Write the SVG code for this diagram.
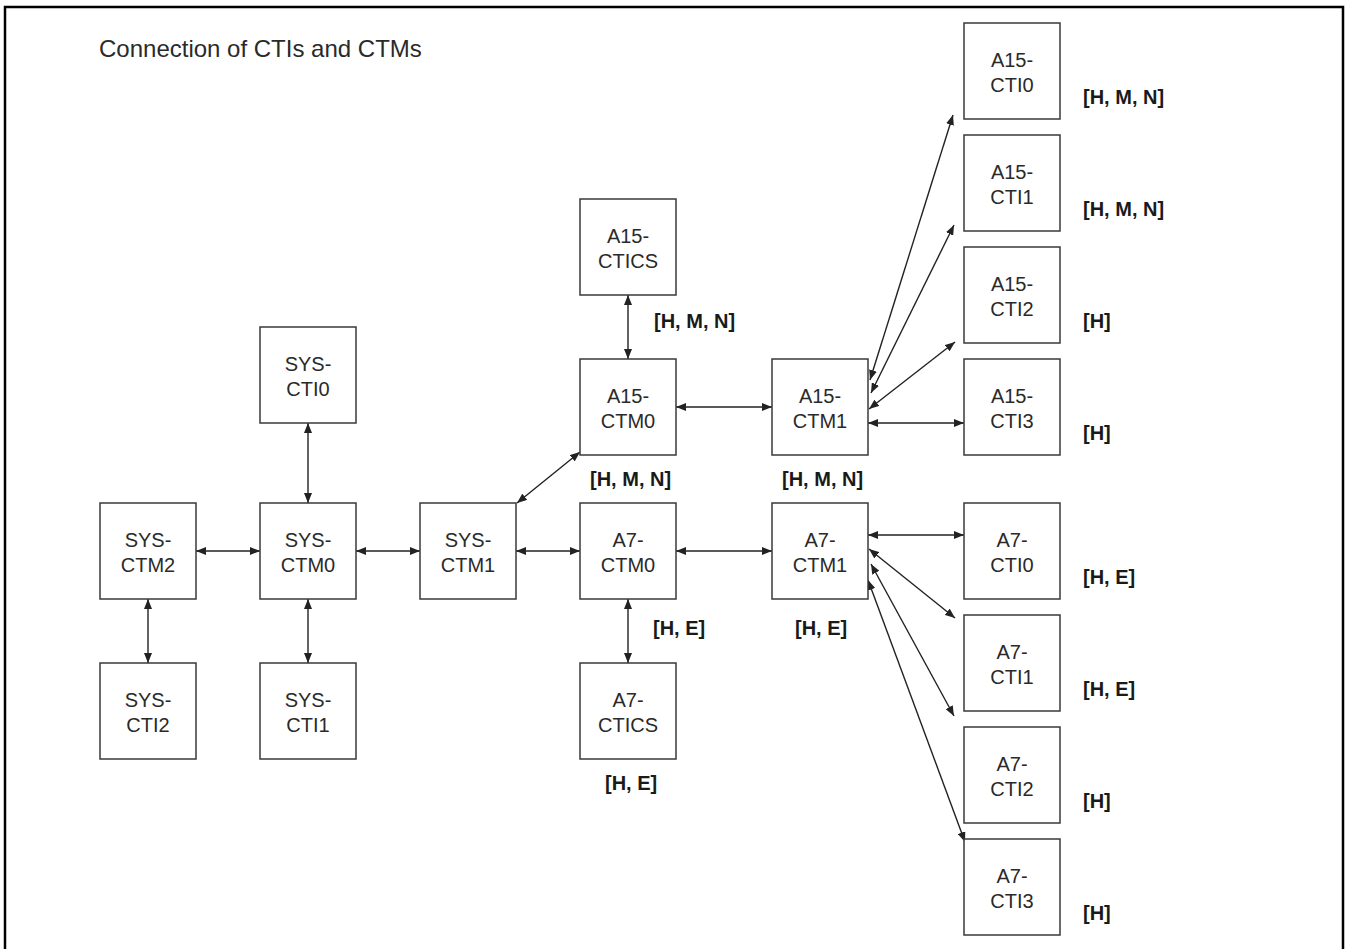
<svg xmlns="http://www.w3.org/2000/svg" width="1346" height="949" viewBox="0 0 1346 949">
  <defs>
    <marker id="arrow" viewBox="0 0 10 8" refX="10" refY="4" markerWidth="10" markerHeight="8" markerUnits="userSpaceOnUse" orient="auto-start-reverse">
      <path d="M0,0 L10,4 L0,8 z" fill="#222"/>
    </marker>
    <style>
      .frame { fill: none; stroke: #000; stroke-width: 2.5; }
      .box { fill: #fff; stroke: #3a3a3a; stroke-width: 1.5; }
      .name { font-family: "Liberation Sans", Arial, sans-serif; font-size: 20px; fill: #2a2a2a; text-anchor: middle; }
      .tag { font-family: "Liberation Sans", Arial, sans-serif; font-size: 20px; font-weight: bold; fill: #1a1a1a; }
      .title { font-family: "Liberation Sans", Arial, sans-serif; font-size: 24px; fill: #2a2a2a; }
      .link { stroke: #222; stroke-width: 1.4; fill: none; marker-start: url(#arrow); marker-end: url(#arrow); }
    </style>
  </defs>

  <rect width="1346" height="949" fill="#fff"/>
  <path class="frame" d="M5,960 V7 H1343 V960"/>
  <text class="title" x="99" y="57">Connection of CTIs and CTMs</text>

  <!-- connectors -->
  <g id="connectors">
    <line class="link" x1="196" y1="551" x2="260" y2="551"/>
    <line class="link" x1="356" y1="551" x2="420" y2="551"/>
    <line class="link" x1="516" y1="551" x2="580" y2="551"/>
    <line class="link" x1="676" y1="551" x2="772" y2="551"/>
    <line class="link" x1="308" y1="423" x2="308" y2="503"/>
    <line class="link" x1="148" y1="599" x2="148" y2="663"/>
    <line class="link" x1="308" y1="599" x2="308" y2="663"/>
    <line class="link" x1="628" y1="599" x2="628" y2="663"/>
    <line class="link" x1="628" y1="295" x2="628" y2="359"/>
    <line class="link" x1="517" y1="503" x2="580" y2="452"/>
    <line class="link" x1="676" y1="407" x2="772" y2="407"/>
    <line class="link" x1="868" y1="423" x2="964" y2="423"/>
    <line class="link" x1="869" y1="409" x2="955" y2="342"/>
    <line class="link" x1="871" y1="393" x2="954" y2="225"/>
    <line class="link" x1="870" y1="380" x2="953" y2="115"/>
    <line class="link" x1="868" y1="535" x2="964" y2="535"/>
    <line class="link" x1="869" y1="549" x2="955" y2="618"/>
    <line class="link" x1="871" y1="564" x2="954" y2="716"/>
    <line class="link" x1="868" y1="580" x2="965" y2="842"/>
  </g>

  <!-- system CTMs / CTIs -->
  <g id="sys-ctm2">
    <rect class="box" x="100" y="503" width="96" height="96"/>
    <text class="name" x="148" y="547">SYS-</text>
    <text class="name" x="148" y="572">CTM2</text>
  </g>
  <g id="sys-ctm0">
    <rect class="box" x="260" y="503" width="96" height="96"/>
    <text class="name" x="308" y="547">SYS-</text>
    <text class="name" x="308" y="572">CTM0</text>
  </g>
  <g id="sys-ctm1">
    <rect class="box" x="420" y="503" width="96" height="96"/>
    <text class="name" x="468" y="547">SYS-</text>
    <text class="name" x="468" y="572">CTM1</text>
  </g>
  <g id="sys-cti0">
    <rect class="box" x="260" y="327" width="96" height="96"/>
    <text class="name" x="308" y="371">SYS-</text>
    <text class="name" x="308" y="396">CTI0</text>
  </g>
  <g id="sys-cti2">
    <rect class="box" x="100" y="663" width="96" height="96"/>
    <text class="name" x="148" y="707">SYS-</text>
    <text class="name" x="148" y="732">CTI2</text>
  </g>
  <g id="sys-cti1">
    <rect class="box" x="260" y="663" width="96" height="96"/>
    <text class="name" x="308" y="707">SYS-</text>
    <text class="name" x="308" y="732">CTI1</text>
  </g>

  <!-- A7 cluster -->
  <g id="a7-ctm0">
    <rect class="box" x="580" y="503" width="96" height="96"/>
    <text class="name" x="628" y="547">A7-</text>
    <text class="name" x="628" y="572">CTM0</text>
    <text class="tag" x="653" y="635">[H, E]</text>
  </g>
  <g id="a7-ctm1">
    <rect class="box" x="772" y="503" width="96" height="96"/>
    <text class="name" x="820" y="547">A7-</text>
    <text class="name" x="820" y="572">CTM1</text>
    <text class="tag" x="795" y="635">[H, E]</text>
  </g>
  <g id="a7-ctics">
    <rect class="box" x="580" y="663" width="96" height="96"/>
    <text class="name" x="628" y="707">A7-</text>
    <text class="name" x="628" y="732">CTICS</text>
    <text class="tag" x="605" y="790">[H, E]</text>
  </g>
  <g id="a7-cti0">
    <rect class="box" x="964" y="503" width="96" height="96"/>
    <text class="name" x="1012" y="547">A7-</text>
    <text class="name" x="1012" y="572">CTI0</text>
    <text class="tag" x="1083" y="584">[H, E]</text>
  </g>
  <g id="a7-cti1">
    <rect class="box" x="964" y="615" width="96" height="96"/>
    <text class="name" x="1012" y="659">A7-</text>
    <text class="name" x="1012" y="684">CTI1</text>
    <text class="tag" x="1083" y="696">[H, E]</text>
  </g>
  <g id="a7-cti2">
    <rect class="box" x="964" y="727" width="96" height="96"/>
    <text class="name" x="1012" y="771">A7-</text>
    <text class="name" x="1012" y="796">CTI2</text>
    <text class="tag" x="1083" y="808">[H]</text>
  </g>
  <g id="a7-cti3">
    <rect class="box" x="964" y="839" width="96" height="96"/>
    <text class="name" x="1012" y="883">A7-</text>
    <text class="name" x="1012" y="908">CTI3</text>
    <text class="tag" x="1083" y="920">[H]</text>
  </g>

  <!-- A15 cluster -->
  <g id="a15-ctics">
    <rect class="box" x="580" y="199" width="96" height="96"/>
    <text class="name" x="628" y="243">A15-</text>
    <text class="name" x="628" y="268">CTICS</text>
    <text class="tag" x="654" y="328">[H, M, N]</text>
  </g>
  <g id="a15-ctm0">
    <rect class="box" x="580" y="359" width="96" height="96"/>
    <text class="name" x="628" y="403">A15-</text>
    <text class="name" x="628" y="428">CTM0</text>
    <text class="tag" x="590" y="486">[H, M, N]</text>
  </g>
  <g id="a15-ctm1">
    <rect class="box" x="772" y="359" width="96" height="96"/>
    <text class="name" x="820" y="403">A15-</text>
    <text class="name" x="820" y="428">CTM1</text>
    <text class="tag" x="782" y="486">[H, M, N]</text>
  </g>
  <g id="a15-cti0">
    <rect class="box" x="964" y="23" width="96" height="96"/>
    <text class="name" x="1012" y="67">A15-</text>
    <text class="name" x="1012" y="92">CTI0</text>
    <text class="tag" x="1083" y="104">[H, M, N]</text>
  </g>
  <g id="a15-cti1">
    <rect class="box" x="964" y="135" width="96" height="96"/>
    <text class="name" x="1012" y="179">A15-</text>
    <text class="name" x="1012" y="204">CTI1</text>
    <text class="tag" x="1083" y="216">[H, M, N]</text>
  </g>
  <g id="a15-cti2">
    <rect class="box" x="964" y="247" width="96" height="96"/>
    <text class="name" x="1012" y="291">A15-</text>
    <text class="name" x="1012" y="316">CTI2</text>
    <text class="tag" x="1083" y="328">[H]</text>
  </g>
  <g id="a15-cti3">
    <rect class="box" x="964" y="359" width="96" height="96"/>
    <text class="name" x="1012" y="403">A15-</text>
    <text class="name" x="1012" y="428">CTI3</text>
    <text class="tag" x="1083" y="440">[H]</text>
  </g>
</svg>
